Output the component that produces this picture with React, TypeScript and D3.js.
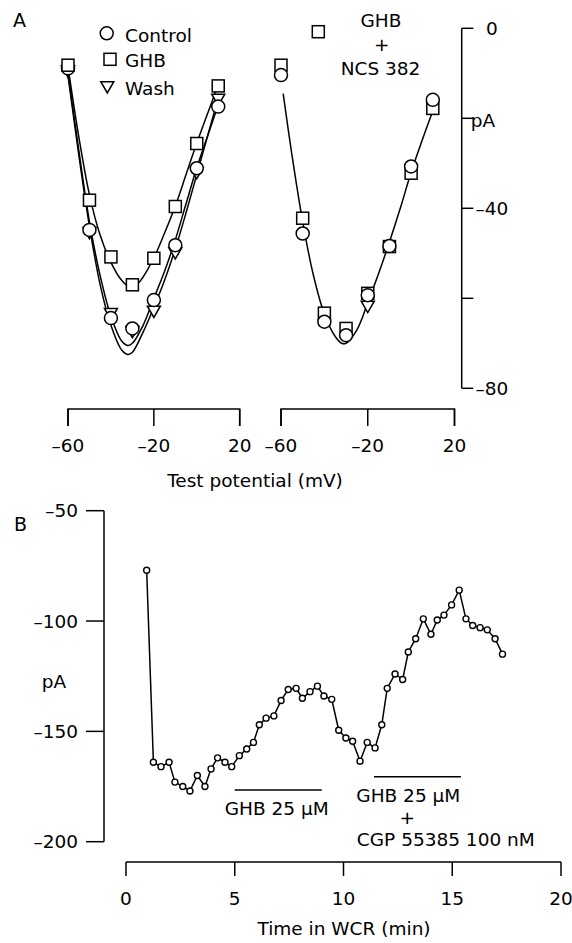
import React from "react";
import * as d3 from "d3";

// ---------- Panel A data (test potential in mV, current in pA) ----------
const potentials = [-60, -50, -40, -30, -20, -10, 0, 10];
const controlLeft = [-8.9, -44.8, -64.4, -66.7, -60.4, -48.2, -31.1, -17.4];
const ghbLeft = [-8.2, -38.2, -50.8, -57.0, -51.1, -39.6, -25.6, -12.8];
const washLeft = [-9.6, -45.5, -63.5, -67.5, -63.0, -50.0, -32.2, -15.9];

const controlRight = [-10.4, -45.6, -65.2, -68.2, -59.3, -48.4, -30.7, -15.9];
const ghbNcsRight = [-8.2, -42.2, -63.3, -66.7, -58.9, -48.5, -32.2, -17.8];
const washRightV = [-20];
const washRight = [-61.9];

// fitted curves
const fitCtrlV = [-60, -55, -50, -45, -40, -35, -32, -30, -25, -20, -15, -10, -5, 0, 5, 10];
const fitCtrl = [-10, -27, -43, -55, -64, -69.5, -70.5, -70, -66, -60, -54, -47, -39, -31, -24, -17];
const fitWashV = [-60, -55, -50, -45, -40, -35, -32, -30, -25, -20, -15, -10, -5, 0, 5, 10];
const fitWash = [-10.5, -28, -44, -57, -66, -71.5, -72.5, -72, -67.5, -62, -56, -49, -41, -32.5, -24, -15.5];
const fitGhbV = [-60, -55, -50, -45, -40, -35, -31, -27, -20, -15, -10, -5, 0, 5, 10];
const fitGhb = [-8.5, -24, -37, -46, -52, -56, -57.5, -56.5, -51, -45.5, -39.5, -32.5, -25.5, -19, -12.5];
const fitRightV = [-59, -55, -50, -45, -40, -35, -32, -30, -25, -20, -15, -10, -5, 0, 5, 9.5];
const fitRight = [-14.5, -28, -43, -55, -63.5, -68.5, -70, -70, -67, -61, -54.5, -47.5, -40, -32, -25, -19];

const xTicksA = [-60, -20, 20];
const yTicksA = [0, -20, -40, -60, -80];
const yLabelsA = [0, -40, -80];

// ---------- Panel B data (time in min, current in pA) ----------
const timeMin = [
  0.95, 1.26, 1.61, 1.98, 2.25, 2.61, 2.94, 3.28, 3.63, 3.91, 4.21, 4.55, 4.86, 5.21, 5.55, 5.86,
  6.13, 6.44, 6.8, 7.13, 7.46, 7.82, 8.11, 8.46, 8.8, 9.1, 9.46, 9.78, 10.11, 10.42, 10.76, 11.09,
  11.45, 11.76, 12.01, 12.37, 12.72, 12.98, 13.32, 13.67, 14.02, 14.31, 14.62, 14.97, 15.32, 15.63,
  15.94, 16.28, 16.61, 16.97, 17.31,
];
const currentPA = [
  -77, -164, -166, -164, -173, -175, -177, -170, -175, -167, -162, -164, -166, -161, -158, -155,
  -147, -144, -143, -136, -131, -130.5, -135, -132, -129.5, -134, -135.5, -149.5, -153, -154.5, -163.5, -155,
  -157.5, -147, -130.5, -124, -126.5, -114, -108, -99, -106, -99.5, -97.3, -92.7, -86, -99,
  -102, -103, -104, -108, -115,
];
const xTicksB = [0, 5, 10, 15, 20];
const yTicksB = [-50, -100, -150, -200];
const bar1 = [5.0, 9.0];
const bar2 = [11.4, 15.4];

const FONT = "'DejaVu Sans', 'Liberation Sans', Arial, sans-serif";
const FS = 18.5;

function fmt(v: number) {
  return v < 0 ? "\u2013" + Math.abs(v) : String(v);
}

function Circle({ x, y, r = 6.5 }: { x: number; y: number; r?: number }) {
  return <circle cx={x} cy={y} r={r} fill="white" stroke="black" strokeWidth={1.5} />;
}
function Square({ x, y, s = 12 }: { x: number; y: number; s?: number }) {
  return <rect x={x - s / 2} y={y - s / 2} width={s} height={s} fill="white" stroke="black" strokeWidth={1.5} />;
}
function Tri({ x, y, s = 13 }: { x: number; y: number; s?: number }) {
  const h = s * 0.87;
  const p = `M${x - s / 2},${y - h / 2}L${x + s / 2},${y - h / 2}L${x},${y + h / 2}Z`;
  return <path d={p} fill="white" stroke="black" strokeWidth={1.5} />;
}

export default function App() {
  const xL = d3.scaleLinear().domain([-60, 20]).range([68, 239.7]);
  const xR = d3.scaleLinear().domain([-60, 20]).range([281, 454.5]);
  const yA = d3.scaleLinear().domain([-80, 0]).range([388.3, 28.3]);
  const xB = d3.scaleLinear().domain([0, 20]).range([126, 561]);
  const yB = d3.scaleLinear().domain([-200, -50]).range([841.7, 510.7]);

  const mkLine = (xs: d3.ScaleLinear<number, number>) =>
    d3
      .line<[number, number]>()
      .x((d) => xs(d[0]))
      .y((d) => yA(d[1]))
      .curve(d3.curveCatmullRom.alpha(0.5));

  const lineL = mkLine(xL);
  const lineR = mkLine(xR);
  const zip = (a: number[], b: number[]) => a.map((v, i) => [v, b[i]] as [number, number]);

  const lineB = d3
    .line<[number, number]>()
    .x((d) => xB(d[0]))
    .y((d) => yB(d[1]));
  const bData = zip(timeMin, currentPA);

  const axisA = (xs: d3.ScaleLinear<number, number>, key: string) => {
    const y0 = 409;
    const y1 = 426;
    return (
      <g key={key}>
        <path d={`M${xs(-60)},${y1}V${y0}H${xs(20)}V${y1}`} fill="none" stroke="black" strokeWidth={1.5} />
        {xTicksA.map((t) => (
          <g key={t}>
            <line x1={xs(t)} x2={xs(t)} y1={y0} y2={y1} stroke="black" strokeWidth={1.5} />
            <text x={xs(t)} y={452} textAnchor="middle" fontSize={FS} fontFamily={FONT}>
              {fmt(t)}
            </text>
          </g>
        ))}
      </g>
    );
  };

  const textStyle = { fontSize: FS, fontFamily: FONT } as const;

  return (
    <svg
      width={572}
      height={943}
      style={{ position: "absolute", left: 0, top: 0, background: "white" }}
    >
      {/* ---------------- Panel A ---------------- */}
      <text x={13} y={27} {...textStyle} fontSize={19}>A</text>

      {/* fitted curves */}
      <path d={lineL(zip(fitCtrlV, fitCtrl)) || ""} fill="none" stroke="black" strokeWidth={1.5} />
      <path d={lineL(zip(fitWashV, fitWash)) || ""} fill="none" stroke="black" strokeWidth={1.5} />
      <path d={lineL(zip(fitGhbV, fitGhb)) || ""} fill="none" stroke="black" strokeWidth={1.5} />
      <path d={lineR(zip(fitRightV, fitRight)) || ""} fill="none" stroke="black" strokeWidth={1.5} />

      {/* left markers */}
      {potentials.map((v, i) => (
        <Tri key={"wl" + v} x={xL(v)} y={yA(washLeft[i])} />
      ))}
      {potentials.map((v, i) => (
        <Circle key={"cl" + v} x={xL(v)} y={yA(controlLeft[i])} />
      ))}
      {potentials.map((v, i) => (
        <Square key={"gl" + v} x={xL(v)} y={yA(ghbLeft[i])} />
      ))}

      {/* right markers */}
      {washRightV.map((v, i) => (
        <Tri key={"wr" + v} x={xR(v)} y={yA(washRight[i])} />
      ))}
      {potentials.map((v, i) => (
        <Square key={"gr" + v} x={xR(v)} y={yA(ghbNcsRight[i])} />
      ))}
      {potentials.map((v, i) => (
        <Circle key={"cr" + v} x={xR(v)} y={yA(controlRight[i])} />
      ))}

      {/* legend */}
      <Circle x={106.7} y={33.3} />
      <text x={125} y={41.7} {...textStyle}>Control</text>
      <Square x={110} y={59.3} />
      <text x={125} y={66.7} {...textStyle}>GHB</text>
      <Tri x={107.3} y={87.3} />
      <text x={125} y={95} {...textStyle}>Wash</text>

      <Square x={318.3} y={31.7} />
      <text x={381} y={27} textAnchor="middle" {...textStyle}>GHB</text>
      <text x={381.7} y={51} textAnchor="middle" {...textStyle}>+</text>
      <text x={380.5} y={75} textAnchor="middle" {...textStyle}>NCS 382</text>

      {/* right y axis */}
      <line x1={461.7} x2={461.7} y1={yA(0)} y2={yA(-80)} stroke="black" strokeWidth={1.5} />
      {yTicksA.map((t) => (
        <line key={t} x1={461.7} x2={473.3} y1={yA(t)} y2={yA(t)} stroke="black" strokeWidth={1.5} />
      ))}
      {yLabelsA.map((t) => (
        <text key={t} x={492} y={yA(t) + 6.5} textAnchor="middle" {...textStyle}>
          {fmt(t)}
        </text>
      ))}
      <text x={483} y={127} textAnchor="middle" {...textStyle}>pA</text>

      {/* x axes A */}
      {axisA(xL, "axL")}
      {axisA(xR, "axR")}
      <text x={255} y={487} textAnchor="middle" {...textStyle}>Test potential (mV)</text>

      {/* ---------------- Panel B ---------------- */}
      <text x={14} y={531} {...textStyle} fontSize={19}>B</text>

      {/* y axis */}
      <line x1={104} x2={104} y1={yB(-50)} y2={yB(-200)} stroke="black" strokeWidth={1.5} />
      {yTicksB.map((t) => (
        <g key={t}>
          <line x1={86} x2={104} y1={yB(t)} y2={yB(t)} stroke="black" strokeWidth={1.5} />
          <text x={78} y={yB(t) + 6.5} textAnchor="end" {...textStyle}>
            {fmt(t)}
          </text>
        </g>
      ))}
      <text x={54} y={688} textAnchor="middle" {...textStyle}>pA</text>

      {/* x axis */}
      <line x1={xB(0)} x2={xB(20)} y1={862} y2={862} stroke="black" strokeWidth={1.5} />
      {xTicksB.map((t) => (
        <g key={t}>
          <line x1={xB(t)} x2={xB(t)} y1={862} y2={876} stroke="black" strokeWidth={1.5} />
          <text x={xB(t)} y={905} textAnchor="middle" {...textStyle}>
            {t}
          </text>
        </g>
      ))}
      <text x={344} y={935} textAnchor="middle" {...textStyle}>Time in WCR (min)</text>

      {/* data */}
      <path d={lineB(bData) || ""} fill="none" stroke="black" strokeWidth={1.5} />
      {bData.map((d, i) => (
        <circle key={i} cx={xB(d[0])} cy={yB(d[1])} r={3} fill="white" stroke="black" strokeWidth={1.4} />
      ))}

      {/* application bars */}
      <line x1={xB(bar1[0])} x2={xB(bar1[1])} y1={790} y2={790} stroke="black" strokeWidth={1.5} />
      <text x={276.7} y={815} textAnchor="middle" {...textStyle}>GHB 25 µM</text>
      <line x1={xB(bar2[0])} x2={xB(bar2[1])} y1={776.7} y2={776.7} stroke="black" strokeWidth={1.5} />
      <text x={408.3} y={802} textAnchor="middle" {...textStyle}>GHB 25 µM</text>
      <text x={407.3} y={824} textAnchor="middle" {...textStyle}>+</text>
      <text x={445.8} y={846} textAnchor="middle" {...textStyle}>CGP 55385 100 nM</text>
    </svg>
  );
}
